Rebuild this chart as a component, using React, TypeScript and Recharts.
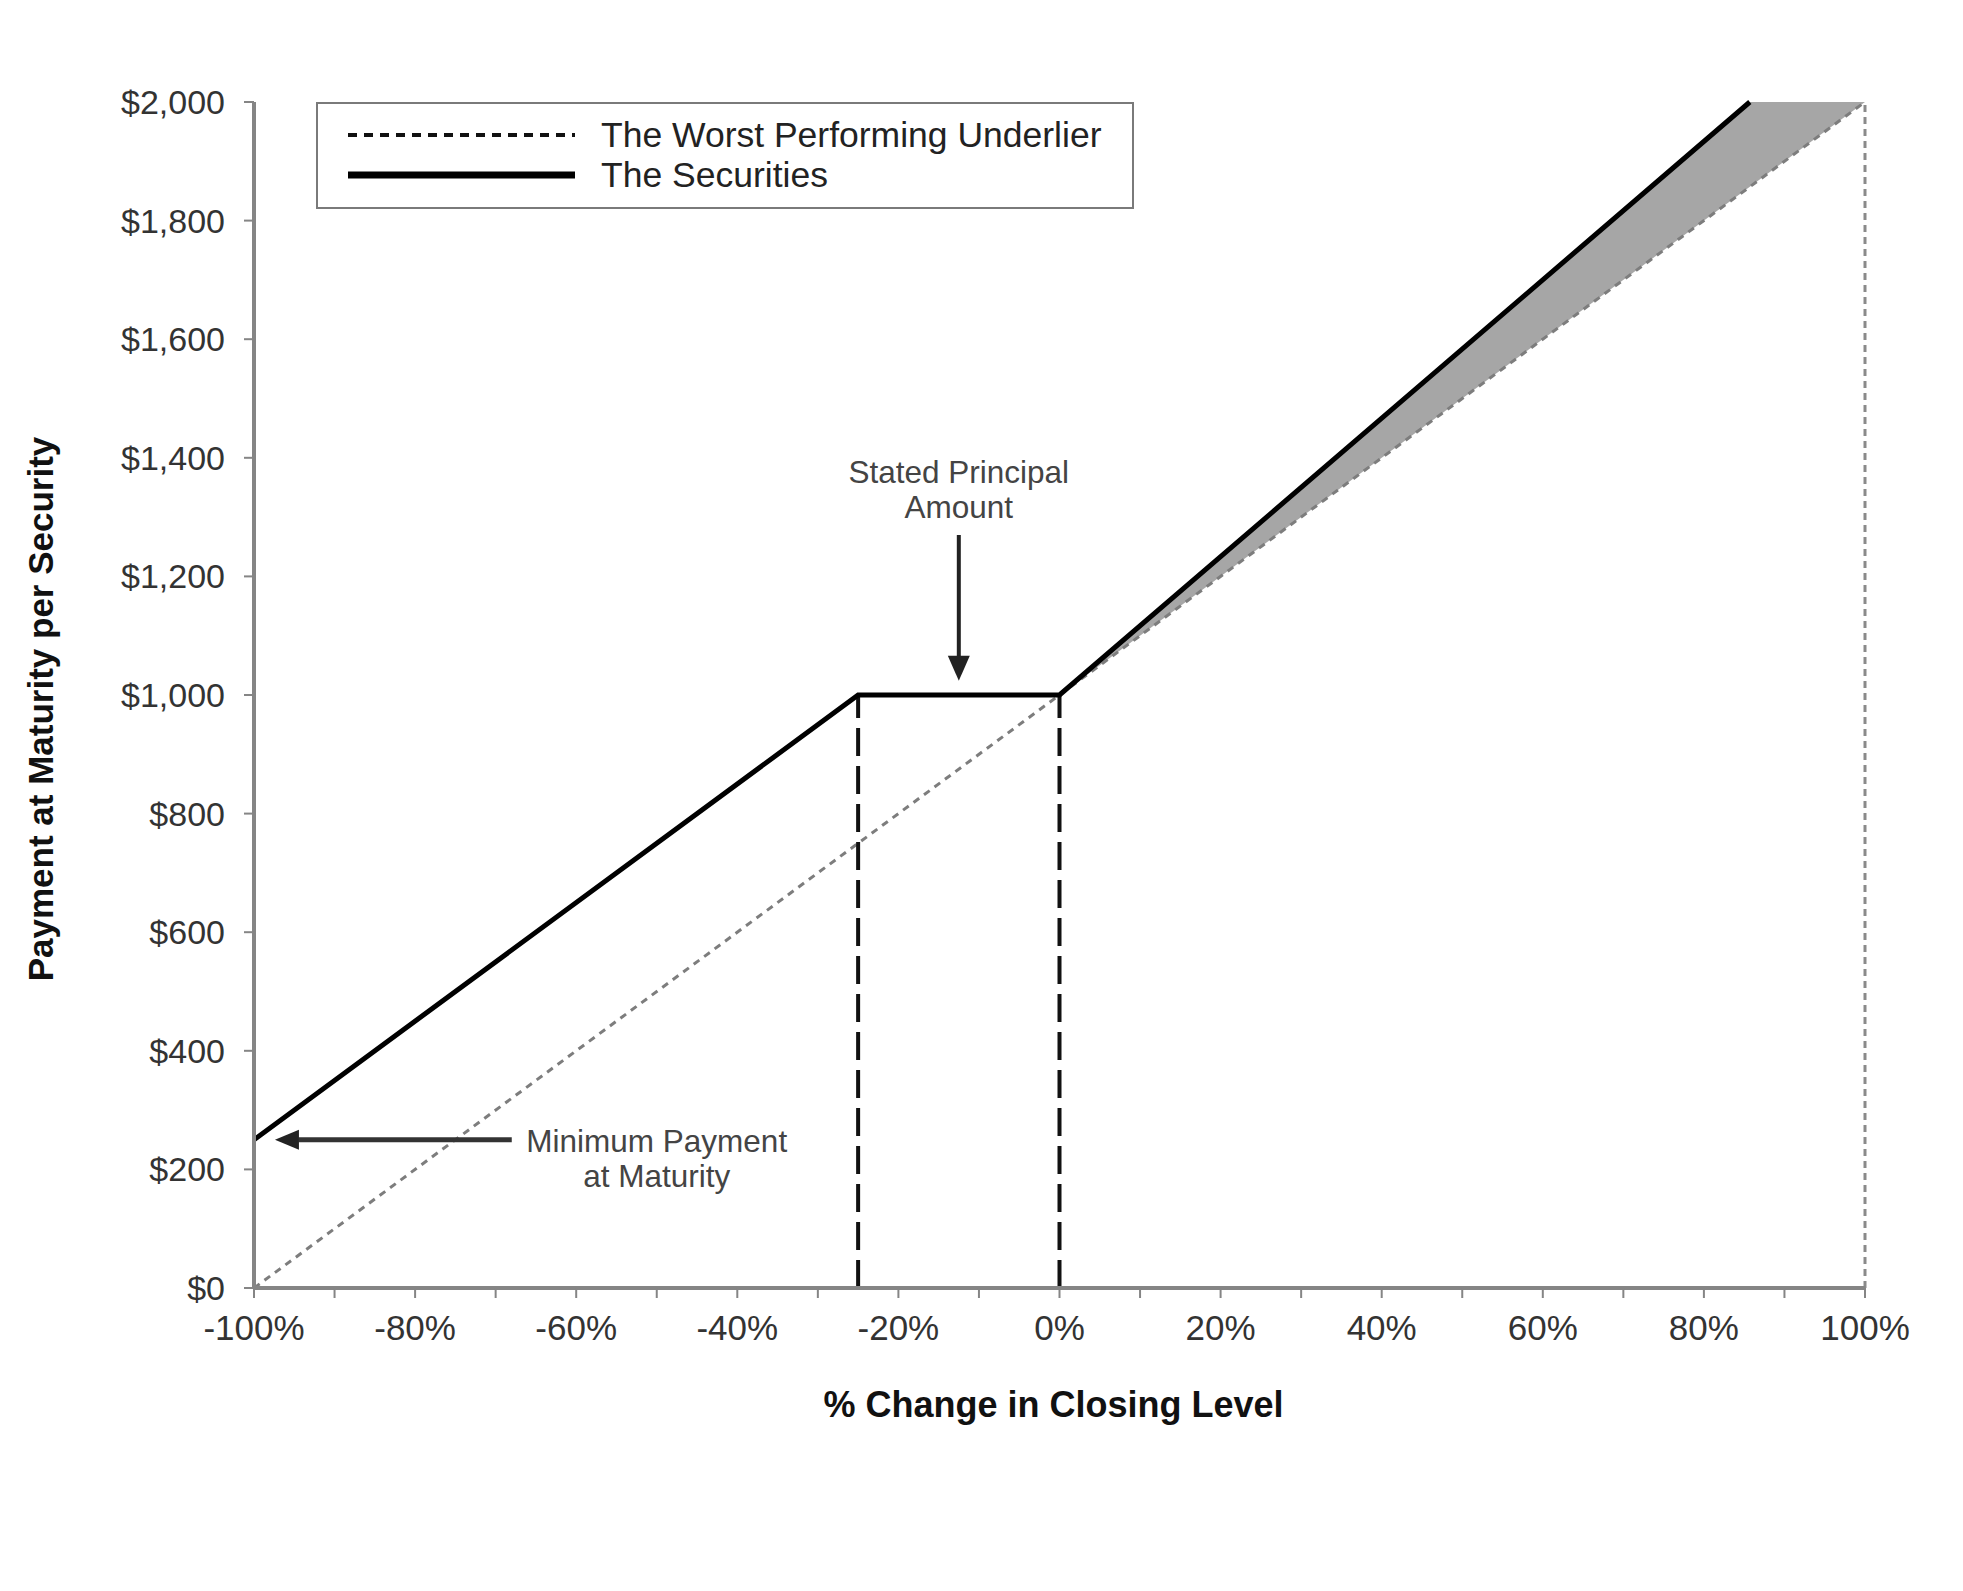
import React from 'react';
import {
  ComposedChart,
  Line,
  Area,
  XAxis,
  YAxis,
  ReferenceLine,
  ReferenceDot,
  Legend,
} from 'recharts';

// ---- data ----
const xValues = [-100, -25, 0, 85.7, 100];
const underlierValues = [0, 750, 1000, 1857, 2000];
const securitiesValues: (number | null)[] = [250, 1000, 1000, 2000, null];

const xTicks = [-100, -90, -80, -70, -60, -50, -40, -30, -20, -10, 0, 10, 20, 30, 40, 50, 60, 70, 80, 90, 100];
const yTicks = [0, 200, 400, 600, 800, 1000, 1200, 1400, 1600, 1800, 2000];

const seriesNames = ['The Worst Performing Underlier', 'The Securities'];
const barrierLevels = [-25, 0];
const principalLevel = 1000;
const capX = 100;
const yMax = 2000;

const principalNote = { x: -12.5, lines: ['Stated Principal', 'Amount'], textY: 1348, arrowFrom: 1270, arrowEnd: 1055, arrowTip: 1024 };
const minimumNote = { lines: ['Minimum Payment', 'at Maturity'], textX: -50, textY: 220, arrowY: 250, arrowFrom: -68, arrowEnd: -94.5, arrowTip: -97.4 };

const data = xValues.map((x, i) => ({
  x,
  underlier: underlierValues[i],
  securities: securitiesValues[i],
  band: x >= 0 ? [underlierValues[i], Math.min(securitiesValues[i] ?? yMax, yMax)] : null,
}));

const FONT = '"Liberation Sans", Arial, Helvetica, sans-serif';
const AXIS_GRAY = '#858585';

const renderLegend = () => (
  <div
    style={{
      width: 818,
      height: 107,
      border: '2px solid #7a7a7a',
      boxSizing: 'border-box',
      background: '#fff',
      position: 'relative',
    }}
  >
    <svg width={814} height={103} style={{ position: 'absolute', left: 0, top: 0 }}>
      <line x1={30} x2={257} y1={31} y2={31} stroke="#111" strokeWidth={4} strokeDasharray="9 7" />
      <text x={283} y={43} fontSize={35.5} fill="#222" fontFamily={FONT}>
        {seriesNames[0]}
      </text>
      <line x1={30} x2={257} y1={71} y2={71} stroke="#000" strokeWidth={7} />
      <text x={283} y={83} fontSize={35.5} fill="#222" fontFamily={FONT}>
        {seriesNames[1]}
      </text>
    </svg>
  </div>
);

const makeTextShape = (lines: string[]) => (p: any) => (
  <g>
    <text x={p.cx} y={p.cy - 6} textAnchor="middle" fontSize={31.5} fill="#444" fontFamily={FONT}>
      {lines[0]}
    </text>
    <text x={p.cx} y={p.cy + 29} textAnchor="middle" fontSize={31.5} fill="#444" fontFamily={FONT}>
      {lines[1]}
    </text>
  </g>
);

const downHead = (p: any) => (
  <polygon points={`${p.cx - 11},${p.cy - 25} ${p.cx + 11},${p.cy - 25} ${p.cx},${p.cy}`} fill="#222" />
);
const leftHead = (p: any) => (
  <polygon points={`${p.cx + 24},${p.cy - 10} ${p.cx + 24},${p.cy + 10} ${p.cx},${p.cy}`} fill="#222" />
);

export default function App() {
  return (
    <div style={{ position: 'absolute', left: 0, top: 0, width: 1963, height: 1591, background: '#fff' }}>
      <ComposedChart
        width={1963}
        height={1591}
        data={data}
        margin={{ top: 102, right: 98, bottom: 0, left: 0 }}
        style={{ fontFamily: FONT }}
      >
        <XAxis
          dataKey="x"
          type="number"
          domain={[-100, 100]}
          ticks={xTicks}
          interval={0}
          height={303}
          tickSize={10}
          tickMargin={17}
          tickFormatter={(v: number) => (v % 20 === 0 ? `${v}%` : '')}
          tick={{ fill: '#333', fontSize: 35, fontFamily: FONT }}
          axisLine={{ stroke: AXIS_GRAY, strokeWidth: 4 }}
          tickLine={{ stroke: AXIS_GRAY, strokeWidth: 2 }}
          label={{
            value: '% Change in Closing Level',
            position: 'insideTop',
            offset: 103,
            dx: -6,
            style: { fontWeight: 'bold', fontSize: 36, fill: '#111', fontFamily: FONT },
          }}
        />
        <YAxis
          type="number"
          domain={[0, yMax]}
          ticks={yTicks}
          interval={0}
          width={254}
          tickSize={10}
          tickMargin={19}
          tickFormatter={(v: number) => `$${v.toLocaleString('en-US')}`}
          tick={{ fill: '#333', fontSize: 34, fontFamily: FONT }}
          axisLine={{ stroke: AXIS_GRAY, strokeWidth: 4 }}
          tickLine={{ stroke: AXIS_GRAY, strokeWidth: 2 }}
          label={{
            value: 'Payment at Maturity per Security',
            angle: -90,
            position: 'insideLeft',
            offset: 41,
            dy: 14,
            style: { textAnchor: 'middle', fontWeight: 'bold', fontSize: 35, fill: '#111', fontFamily: FONT },
          }}
        />
        <Legend
          layout="horizontal"
          verticalAlign="middle"
          align="center"
          content={renderLegend}
          wrapperStyle={{ left: 316, top: 102, width: 818, height: 107 }}
        />
        <Area
          dataKey="band"
          type="linear"
          stroke="none"
          fill="#a6a6a6"
          fillOpacity={1}
          legendType="none"
          isAnimationActive={false}
          activeDot={false}
        />
        <Line
          dataKey="underlier"
          name={seriesNames[0]}
          type="linear"
          stroke="#7d7d7d"
          strokeWidth={3}
          strokeDasharray="7 6"
          dot={false}
          activeDot={false}
          isAnimationActive={false}
        />
        <ReferenceLine
          segment={[{ x: capX, y: 0 }, { x: capX, y: yMax }]}
          stroke="#8a8a8a"
          strokeWidth={3}
          strokeDasharray="7 5"
        />
        {barrierLevels.map((b) => (
          <ReferenceLine
            key={b}
            segment={[{ x: b, y: 0 }, { x: b, y: principalLevel }]}
            stroke="#111"
            strokeWidth={4}
            strokeDasharray="28 10"
          />
        ))}
        <Line
          dataKey="securities"
          name={seriesNames[1]}
          type="linear"
          stroke="#000"
          strokeWidth={5}
          dot={false}
          activeDot={false}
          connectNulls={false}
          isAnimationActive={false}
        />
        {/* Stated principal annotation */}
        <ReferenceLine
          segment={[{ x: principalNote.x, y: principalNote.arrowFrom }, { x: principalNote.x, y: principalNote.arrowEnd }]}
          stroke="#222"
          strokeWidth={4}
        />
        <ReferenceDot x={principalNote.x} y={principalNote.arrowTip} r={0} shape={downHead} />
        <ReferenceDot x={principalNote.x} y={principalNote.textY} r={0} shape={makeTextShape(principalNote.lines)} />
        {/* Minimum payment annotation */}
        <ReferenceLine
          segment={[{ x: minimumNote.arrowFrom, y: minimumNote.arrowY }, { x: minimumNote.arrowEnd, y: minimumNote.arrowY }]}
          stroke="#333"
          strokeWidth={5}
        />
        <ReferenceDot x={minimumNote.arrowTip} y={minimumNote.arrowY} r={0} shape={leftHead} />
        <ReferenceDot x={minimumNote.textX} y={minimumNote.textY} r={0} shape={makeTextShape(minimumNote.lines)} />
      </ComposedChart>
    </div>
  );
}
